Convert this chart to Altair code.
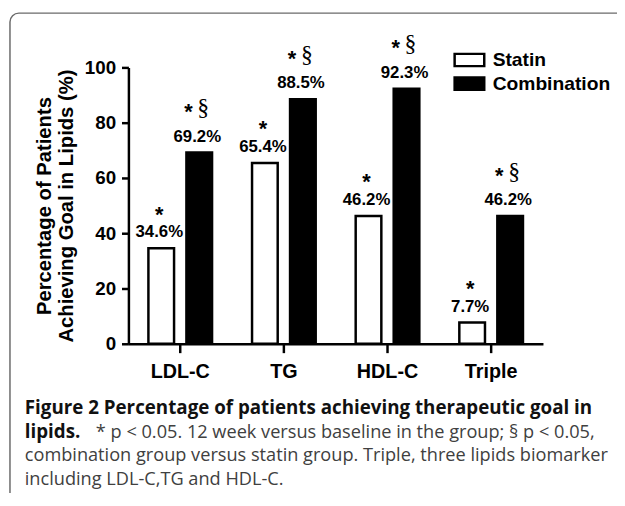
import altair as alt
import pandas as pd

categories = ["LDL-C", "TG", "HDL-C", "Triple"]
series = ["Statin", "Combination"]
statin_values = [34.6, 65.4, 46.2, 7.7]
combination_values = [69.2, 88.5, 92.3, 46.2]
statin_stars = ["*", "*", "*", "*"]
statin_sections = ["", "", "", ""]
combination_stars = ["*", "*", "*", "*"]
combination_sections = ["§", "§", "§", "§"]
y_ticks = [0, 20, 40, 60, 80, 100]
y_title = ["Percentage of Patients", "Achieving Goal in Lipids (%)"]
caption_bold_1 = "Figure 2 Percentage of patients achieving therapeutic goal in"
caption_bold_2 = "lipids."
caption_reg_2 = "* p < 0.05. 12 week versus baseline in the group; § p < 0.05,"
caption_reg_3 = "combination group versus statin group. Triple, three lipids biomarker"
caption_reg_4 = "including LDL-C,TG and HDL-C."

rows = []
for i, c in enumerate(categories):
    rows.append(dict(cat=c, series="Statin", value=statin_values[i],
                     star=statin_stars[i], section=statin_sections[i]))
    rows.append(dict(cat=c, series="Combination", value=combination_values[i],
                     star=combination_stars[i], section=combination_sections[i]))
df = pd.DataFrame(rows)
df["label"] = df["value"].map(lambda v: f"{v:.1f}%")

FONT = "Liberation Sans"
CAP = "Open Sans"

x_enc = alt.X("cat:N", sort=categories,
              scale=alt.Scale(paddingInner=0, paddingOuter=0),
              axis=alt.Axis(title=None, labelAngle=0, labelFont=FONT, labelFontSize=20,
                            labelFontWeight="bold", labelColor="black", labelPadding=9,
                            tickSize=9, tickWidth=2.5, tickColor="black",
                            domainWidth=2.5, domainColor="black"))
x_plain = alt.X("cat:N", sort=categories)
xo_enc = alt.XOffset("series:N", sort=series,
                     scale=alt.Scale(paddingInner=0.325, paddingOuter=0.526))
xo_plain = alt.XOffset("series:N", sort=series)
y_enc = alt.Y("value:Q",
              scale=alt.Scale(domain=[0, 100], nice=False),
              axis=alt.Axis(values=y_ticks, title=y_title, labelFont=FONT, labelFontSize=19,
                            labelFontWeight="bold", labelColor="black", labelPadding=6,
                            labelFlush=False,
                            tickSize=7, tickWidth=2.5, tickColor="black",
                            domainWidth=2.5, domainColor="black",
                            titleFont=FONT, titleFontSize=20.5, titleFontWeight="bold",
                            titleColor="black", titlePadding=8, titleLineHeight=22))

base = alt.Chart(df)

bars = base.mark_bar(stroke="black", strokeWidth=2.5).encode(
    x=x_enc, xOffset=xo_enc, y=y_enc,
    color=alt.Color("series:N", sort=series,
                    scale=alt.Scale(domain=series, range=["white", "black"]),
                    legend=alt.Legend(title=None, orient="none", legendX=334, legendY=-19,
                                      symbolType="M-1.5,-0.62L1.5,-0.62L1.5,0.62L-1.5,0.62Z",
                                      symbolSize=400, symbolStrokeColor="black",
                                      symbolStrokeWidth=2.5, labelFont=FONT,
                                      labelFontSize=19.5, labelFontWeight="bold",
                                      labelColor="black", labelOffset=12, rowPadding=1,
                                      padding=0, labelLimit=300))
)

labels = base.mark_text(font=FONT, fontSize=17, fontWeight="bold", color="black",
                        baseline="alphabetic", dy=-11, dx=-2).encode(
    x=x_plain, xOffset=xo_plain, y="value:Q", text="label:N")

statin_star = base.transform_filter("datum.series == 'Statin'").mark_text(
    font=FONT, fontSize=22, fontWeight="bold", color="black",
    baseline="alphabetic", dy=-27, dx=-2).encode(
    x=x_plain, xOffset=xo_plain, y="value:Q", text="star:N")

combo_star = base.transform_filter("datum.series == 'Combination'").mark_text(
    font=FONT, fontSize=22, fontWeight="bold", color="black",
    baseline="alphabetic", dy=-34, dx=-11).encode(
    x=x_plain, xOffset=xo_plain, y="value:Q", text="star:N")

combo_section = base.transform_filter("datum.series == 'Combination'").mark_text(
    font="Liberation Serif", fontSize=24, color="black",
    baseline="alphabetic", dy=-38, dx=4).encode(
    x=x_plain, xOffset=xo_plain, y="value:Q", text="section:N")

one = alt.Data(values=[{"k": 1}])

frame = alt.Chart(one).mark_rect(fill="transparent", stroke="#6b6b6b", strokeWidth=1.5,
                                 cornerRadius=9).encode(
    x=alt.value(-120), x2=alt.value(700), y=alt.value(-55), y2=alt.value(700))

def cap(text, x, y, bold):
    return alt.Chart(one).mark_text(
        font=CAP, fontSize=19 if bold else 18.4, fontWeight="bold" if bold else "normal",
        color="#111111" if bold else "#404040", align="left", baseline="middle").encode(
        x=alt.value(x), y=alt.value(y), text=alt.value(text))

caption = [
    cap(caption_bold_1, -105, 345, True),
    cap(caption_bold_2, -105, 369, True),
    cap(caption_reg_2, -33, 369, False),
    cap(caption_reg_3, -105, 393, False),
    cap(caption_reg_4, -105, 417, False),
]

chart = alt.layer(frame, bars, labels, statin_star, combo_star, combo_section, *caption).properties(
    width=420, height=280,
    autosize=alt.AutoSizeParams(type="none"),
    padding={"left": 122, "top": 57, "right": 75, "bottom": 148},
    background="white",
).configure_view(stroke=None).configure_axis(grid=False)

chart.save("out.html", embed_options={"renderer": "svg", "actions": False})
